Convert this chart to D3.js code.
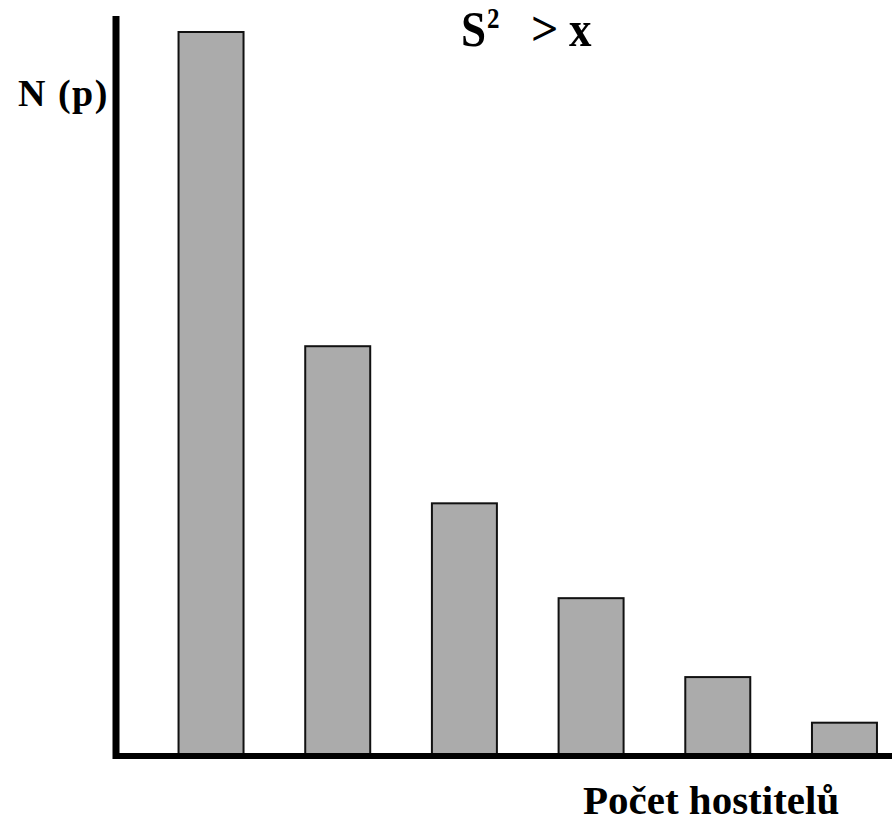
<!DOCTYPE html>
<html>
<head>
<meta charset="utf-8">
<script src="https://cdn.jsdelivr.net/npm/d3@7"></script>
<style>
  html, body { margin: 0; padding: 0; background: #ffffff; }
  svg { display: block; }
  text { font-family: "Liberation Serif", "DejaVu Serif", serif; font-weight: bold; fill: #000; }
</style>
</head>
<body>
<svg id="chart" width="893" height="823"></svg>
<script>
// Data
const categories = ["1", "2", "3", "4", "5", "6"];
const values = [100, 56.6, 34.9, 21.8, 10.9, 4.6];
const titleParts = ["S", "2", ">", "x"];
const yLabel = "N (p)";
const xLabel = "Počet hostitelů";

const svg = d3.select("#chart");

const x = d3.scaleBand()
  .domain(categories)
  .range([115.2, 940.3])
  .paddingInner(0.487)
  .paddingOuter(0.5);

const y = d3.scaleLinear()
  .domain([0, 100])
  .range([756, 32]);

// Bars
svg.append("g")
  .selectAll("rect")
  .data(values)
  .join("rect")
  .attr("x", (d, i) => x(categories[i]))
  .attr("y", d => y(d))
  .attr("width", x.bandwidth())
  .attr("height", d => y(0) - y(d))
  .attr("fill", "#ababab")
  .attr("stroke", "#111")
  .attr("stroke-width", 2);

// Axes (no ticks)
const yAxis = d3.axisLeft(y).tickValues([]).tickSizeOuter(0);
const gy = svg.append("g").attr("transform", "translate(116,0)").call(yAxis);
gy.select(".domain").attr("d", "M0,16V759").attr("stroke", "#000").attr("stroke-width", 7);

const xAxis = d3.axisBottom(x).tickValues([]).tickSizeOuter(0);
const gx = svg.append("g").attr("transform", "translate(0,756)").call(xAxis);
gx.select(".domain").attr("d", "M113,0H892").attr("stroke", "#000").attr("stroke-width", 6);

// Title S² > x (vertically stretched like the reference)
const tg = svg.append("g").attr("transform", "translate(0,46) scale(1,1.14)");
tg.append("text").attr("x", 461).attr("y", 0).attr("font-size", 45).text(titleParts[0]);
tg.append("text").attr("x", 487).attr("y", -15.5).attr("font-size", 25).attr("font-weight", "normal").text(titleParts[1]);
tg.append("text").attr("x", 569).attr("y", 0).attr("font-size", 45).text(titleParts[3]);
svg.append("text").attr("x", 531).attr("y", 45).attr("font-size", 48)
  .attr("font-weight", "normal").text(titleParts[2]);

// Y label
svg.append("text")
  .attr("x", 18).attr("y", 106)
  .attr("font-size", 38)
  .attr("letter-spacing", 1.5)
  .text(yLabel);

// X label
svg.append("text")
  .attr("x", 583).attr("y", 814)
  .attr("font-size", 41)
  .text(xLabel);
</script>
</body>
</html>
